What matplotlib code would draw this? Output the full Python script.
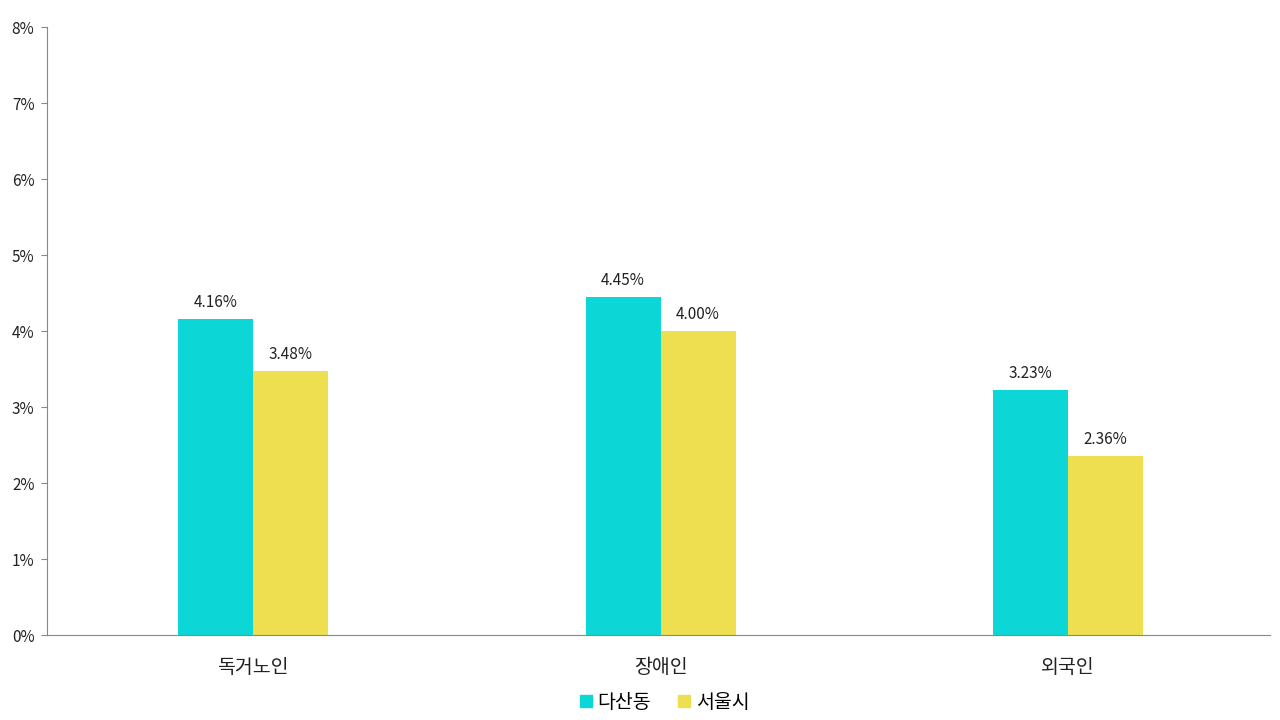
import matplotlib
matplotlib.use("Agg")
import matplotlib.pyplot as plt
import numpy as np
from matplotlib.ticker import FuncFormatter
from matplotlib.lines import Line2D

plt.rcParams['font.family'] = ['Noto Sans CJK KR', 'DejaVu Sans']

categories = ["독거노인", "장애인", "외국인"]
series_names = ["다산동", "서울시"]
dasan = [4.16, 4.45, 3.23]
seoul = [3.48, 4.00, 2.36]
colors = ["#0DD7D6", "#EDDF4F"]

fig = plt.figure(figsize=(12.8, 7.2), dpi=100)
ax = fig.add_axes([47 / 1280, 1 - 635 / 720, (1270 - 47) / 1280, (635 - 27) / 720])

x = np.arange(len(categories))
w = 0.184
b1 = ax.bar(x - w / 2, dasan, w, color=colors[0])
b2 = ax.bar(x + w / 2, seoul, w, color=colors[1])

for bars, vals in ((b1, dasan), (b2, seoul)):
    for r, v in zip(bars, vals):
        ax.text(r.get_x() + r.get_width() / 2, v + 0.1, f"{v:.2f}%",
                ha="center", va="bottom", fontsize=11, color="#222222")

ax.set_xlim(-0.505, 2.495)
ax.set_ylim(0, 8)
ax.set_yticks(range(0, 9))
ax.yaxis.set_major_formatter(FuncFormatter(lambda v, p: f"{int(v)}%"))
ax.set_xticks(x)
ax.set_xticklabels(categories, fontsize=14)
ax.tick_params(axis="x", length=0, pad=16, colors="#222222")
ax.tick_params(axis="y", length=4, color="#888888", labelsize=11, labelcolor="#222222", pad=5)

for s in ["top", "right"]:
    ax.spines[s].set_visible(False)
ax.spines["left"].set_color("#888888")
ax.spines["bottom"].set_color("#888888")

handles = [Line2D([], [], marker="s", linestyle="none", markersize=9,
                  markerfacecolor=c, markeredgecolor=c) for c in colors]
fig.legend(handles, series_names, loc="center", bbox_to_anchor=(0.516, 1 - 702 / 720),
           ncol=2, frameon=False, fontsize=14, handletextpad=-0.15,
           columnspacing=0.95, handlelength=1.5)

fig.savefig("out.png", dpi=100)
